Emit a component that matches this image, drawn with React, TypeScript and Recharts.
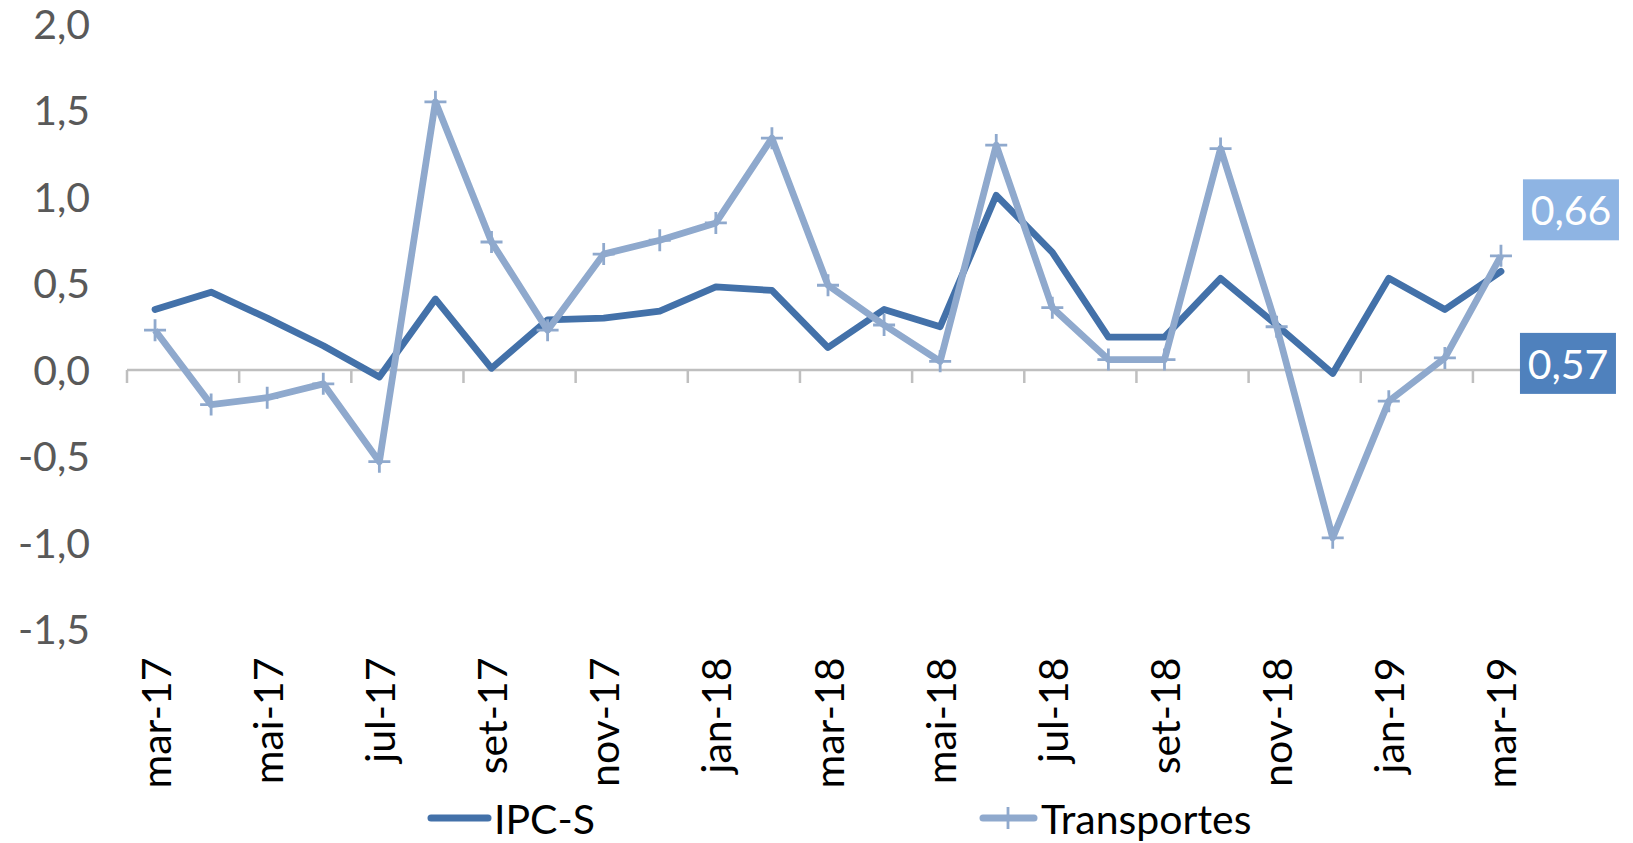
import React from 'react';
import { LineChart, Line, XAxis, YAxis, ReferenceLine, Legend } from 'recharts';

const months = ['mar-17','abr-17','mai-17','jun-17','jul-17','ago-17','set-17','out-17','nov-17','dez-17','jan-18','fev-18','mar-18','abr-18','mai-18','jun-18','jul-18','ago-18','set-18','out-18','nov-18','dez-18','jan-19','fev-19','mar-19'];
const ipcs = [0.35,0.45,0.30,0.14,-0.04,0.41,0.01,0.29,0.30,0.34,0.48,0.46,0.13,0.35,0.25,1.01,0.68,0.19,0.19,0.53,0.26,-0.02,0.53,0.35,0.57];
const transportes = [0.23,-0.20,-0.16,-0.08,-0.53,1.55,0.74,0.23,0.67,0.75,0.85,1.34,0.49,0.26,0.05,1.30,0.36,0.06,0.06,1.28,0.25,-0.97,-0.18,0.07,0.66];
const yTicks = [-1.5,-1,-0.5,0,0.5,1,1.5,2];
const seriesNames = ['IPC-S','Transportes'];

const data = months.map((m, i) => ({ month: m, ipcs: ipcs[i], transportes: transportes[i] }));

const FONT = 'Lato, "Open Sans", sans-serif';
const C_IPCS = '#4371A9';
const C_TRANS = '#8FA9CD';
const fmt = (v: number) => v.toFixed(1).replace('.', ',');
const fmt2 = (v: number) => v.toFixed(2).replace('.', ',');

const XTick = (props: any) => {
  const { x, y, payload } = props;
  return (
    <g transform={`translate(${x},${y})`}>
      <text transform="rotate(-90)" textAnchor="end" dominantBaseline="central" fill="#000" fontSize={41} fontFamily={FONT}>
        {payload.value}
      </text>
    </g>
  );
};

const ZeroAxis = (props: any) => {
  const { x1, x2, y1 } = props;
  const n = data.length;
  const step = (x2 - x1) / n;
  const ticks = [];
  for (let i = 0; i < n; i += 2) {
    const tx = x1 + i * step;
    ticks.push(<line key={i} x1={tx} x2={tx} y1={y1} y2={y1 + 13} stroke="#BFBFBF" strokeWidth={2.5} />);
  }
  return (
    <g>
      <line x1={x1} x2={x2} y1={y1} y2={y1} stroke="#BFBFBF" strokeWidth={2.5} />
      {ticks}
    </g>
  );
};

const PlusDot = (props: any) => {
  const { cx, cy, index } = props;
  if (cx == null || cy == null) return <g key={index} />;
  return (
    <path key={index} d={`M${cx - 11},${cy}h22M${cx},${cy - 11}v22`} stroke={C_TRANS} strokeWidth={2.8} fill="none" />
  );
};

const makeLabel = (fill: string, dx: number, dy: number) => (props: any) => {
  const { x, y, index, value } = props;
  if (index !== data.length - 1) return <g key={index} />;
  const cx = x + dx;
  const cy = y + dy;
  return (
    <g key={index}>
      <rect x={cx - 48} y={cy - 30.5} width={96} height={61} fill={fill} />
      <text x={cx} y={cy} textAnchor="middle" dominantBaseline="central" fill="#fff" fontSize={41} fontFamily={FONT}>
        {fmt2(value)}
      </text>
    </g>
  );
};

const LegendContent = () => (
  <svg width={1529} height={50} style={{ display: 'block' }}>
    <line x1={431} x2={488} y1={25} y2={25} stroke={C_IPCS} strokeWidth={7} strokeLinecap="round" />
    <text x={494} y={25} dominantBaseline="central" fontSize={41} fontFamily={FONT} fill="#000">{seriesNames[0]}</text>
    <line x1={983} x2={1034} y1={25} y2={25} stroke={C_TRANS} strokeWidth={7} strokeLinecap="round" />
    <path d={`M${997},25h22M${1008},14v22`} stroke={C_TRANS} strokeWidth={2.8} />
    <text x={1041} y={25} dominantBaseline="central" fontSize={41} fontFamily={FONT} fill="#000">{seriesNames[1]}</text>
  </svg>
);

export default function App() {
  return (
    <div style={{ position: 'absolute', left: 0, top: 0, width: 1633, height: 843, background: '#fff' }}>
      <LineChart width={1633} height={843} data={data} margin={{ top: 24, right: 104, bottom: 0, left: 0 }}>
        <XAxis dataKey="month" scale="band" interval={1} height={163.5} axisLine={false} tickLine={false} tickSize={0} tickMargin={28} tick={<XTick />} />
        <YAxis
          width={127}
          domain={[-1.5, 2]}
          ticks={yTicks}
          tickFormatter={fmt}
          axisLine={false}
          tickLine={false}
          tickSize={0}
          tickMargin={37}
          tick={{ fill: '#595959', fontSize: 41, fontFamily: FONT }}
          allowDataOverflow
        />
        <ReferenceLine y={0} shape={(p: any) => <ZeroAxis {...p} />} />
        <Legend verticalAlign="bottom" align="left" content={<LegendContent />} wrapperStyle={{ height: 50 }} />
        <Line
          dataKey="ipcs"
          name={seriesNames[0]}
          stroke={C_IPCS}
          strokeWidth={6.8}
          strokeLinejoin="round"
          strokeLinecap="round"
          dot={false}
          isAnimationActive={false}
          label={makeLabel('#4F81BD', 67, 92)}
        />
        <Line
          dataKey="transportes"
          name={seriesNames[1]}
          stroke={C_TRANS}
          strokeWidth={6.8}
          strokeLinejoin="round"
          dot={<PlusDot />}
          isAnimationActive={false}
          label={makeLabel('#8EB4E3', 70, -46)}
        />
      </LineChart>
    </div>
  );
}
